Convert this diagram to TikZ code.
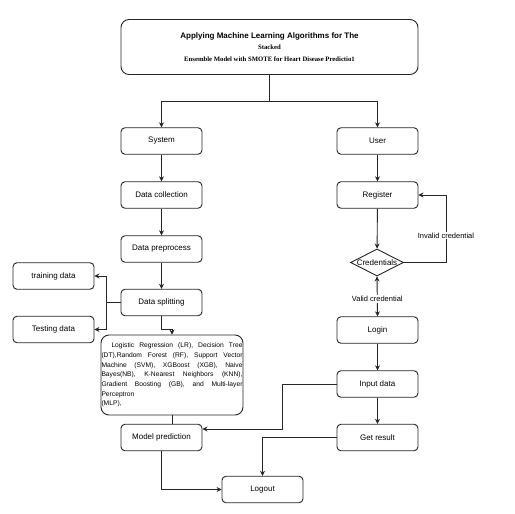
\documentclass[tikz,border=0pt]{standalone}
\usepackage{fontspec}
\setmainfont{Liberation Serif}
\setsansfont{Liberation Sans}
\usetikzlibrary{arrows.meta,shapes.geometric}
\begin{document}
\begin{tikzpicture}[x=1pt,y=-1pt,
  box/.style={draw=black!85, line width=0.9pt, rounded corners=4pt, minimum width=81pt, minimum height=26.5pt, inner sep=0pt, fill=white, font=\sffamily\fontsize{8}{9.6}\selectfont},
  ln/.style={draw=black!85, line width=0.9pt},
  arr/.style={ln, -{Stealth[length=5pt,width=5pt]}},
  arrb/.style={ln, {Stealth[length=5pt,width=5pt]}-{Stealth[length=5pt,width=5pt]}},
  lbl/.style={fill=white, inner sep=1pt, font=\sffamily\fontsize{7.5}{9}\selectfont}]
\useasboundingbox (0,0) rectangle (515,514);
\fill[white] (0,0) rectangle (515,514);

% title
\node[box, minimum width=297pt, minimum height=55pt, rounded corners=8pt, align=center,
  font=\rmfamily\bfseries\fontsize{6.7}{11.5}\selectfont] (title) at (269.5,47)
  {{\sffamily\fontsize{8}{11.5}\selectfont Applying Machine Learning Algorithms for The}\\
   Stacked\\
   Ensemble Model with SMOTE for Heart Disease Predictio1};

% left column
\node[box] (system) at (161.5,141) {System};
\node[box] (collect) at (161.5,195) {Data collection};
\node[box] (prep) at (161.5,249) {Data preprocess};
\node[box] (split) at (161.5,302.5) {Data splitting};
\node[box] (train) at (53.5,276) {training data};
\node[box] (test) at (53.5,329.5) {Testing data};
\node[box, rounded corners=8pt, minimum width=142pt, minimum height=80pt, inner xsep=0.5pt,
  text width=141pt, align=left, font=\sffamily\fontsize{6.7}{9.7}\selectfont] (algo) at (172,375)
  {\hspace*{10pt}\makebox[131pt][l]{Logistic\hfill Regression\hfill (LR),\hfill Decision\hfill Tree}\\
   \makebox[141pt][l]{(DT),Random\hfill Forest\hfill (RF),\hfill Support\hfill Vector}\\
   \makebox[141pt][l]{Machine\hfill (SVM),\hfill XGBoost\hfill (XGB),\hfill Naive}\\
   \makebox[141pt][l]{Bayes(NB),\hfill K-Nearest\hfill Neighbors\hfill (KNN),}\\
   \makebox[141pt][l]{Gradient\hfill Boosting\hfill (GB),\hfill and\hfill Multi-layer}\\
   Perceptron\\
   (MLP),};
\node[box] (model) at (161.5,437.5) {Model prediction};
\node[box] (logout) at (262.5,489.5) {Logout};

% right column
\node[box] (user) at (377.5,141) {User};
\node[box] (register) at (377.5,195) {Register};
\node[diamond, draw=black!85, line width=0.9pt, fill=white, minimum width=53pt, minimum height=27pt, inner sep=0pt,
  label={[font=\sffamily\fontsize{8}{9.6}\selectfont]center:Credentials}] (cred) at (377,262.5) {};
\node[box] (login) at (377.5,330) {Login};
\node[box] (input) at (377.5,384) {Input data};
\node[box] (result) at (377.5,437.5) {Get result};

% connectors
\draw[ln] (title.south) -- ++(0,26) coordinate (tj);
\draw[arr] (tj) -| (system.north);
\draw[arr] (tj) -| (user.north);

\draw[arr] (system) -- (collect);
\draw[arr] (collect) -- (prep);
\draw[arr] (prep) -- (split);
\draw[ln] (split.west) -- ++(-14,0) coordinate (sj);
\draw[arr] (sj) |- (train.east);
\draw[arr] (sj) |- (test.east);
\draw[arr] (split.south) -- ++(0,13.5) -| (algo.north);
\draw[ln] (algo.south) -- (algo.south |- model.north);
\draw[arr] (model.south) |- (logout.west);

\draw[arr] (user) -- (register);
\draw[arr] (register) -- (cred);
\draw[arr] (cred.east) -- ++(42,0) |- (register.east) node[lbl, pos=0.2] {Invalid credential};
\draw[arrb] (cred.south) -- (login.north) node[lbl, pos=0.57] {Valid credential};
\draw[arr] (login) -- (input);
\draw[arr] (input) -- (result);
\draw[arr] (input.west) -- ++(-54,0) |- ([yshift=8.5pt]model.east);
\draw[arr] (result.west) -| (logout.north);
\end{tikzpicture}
\end{document}
